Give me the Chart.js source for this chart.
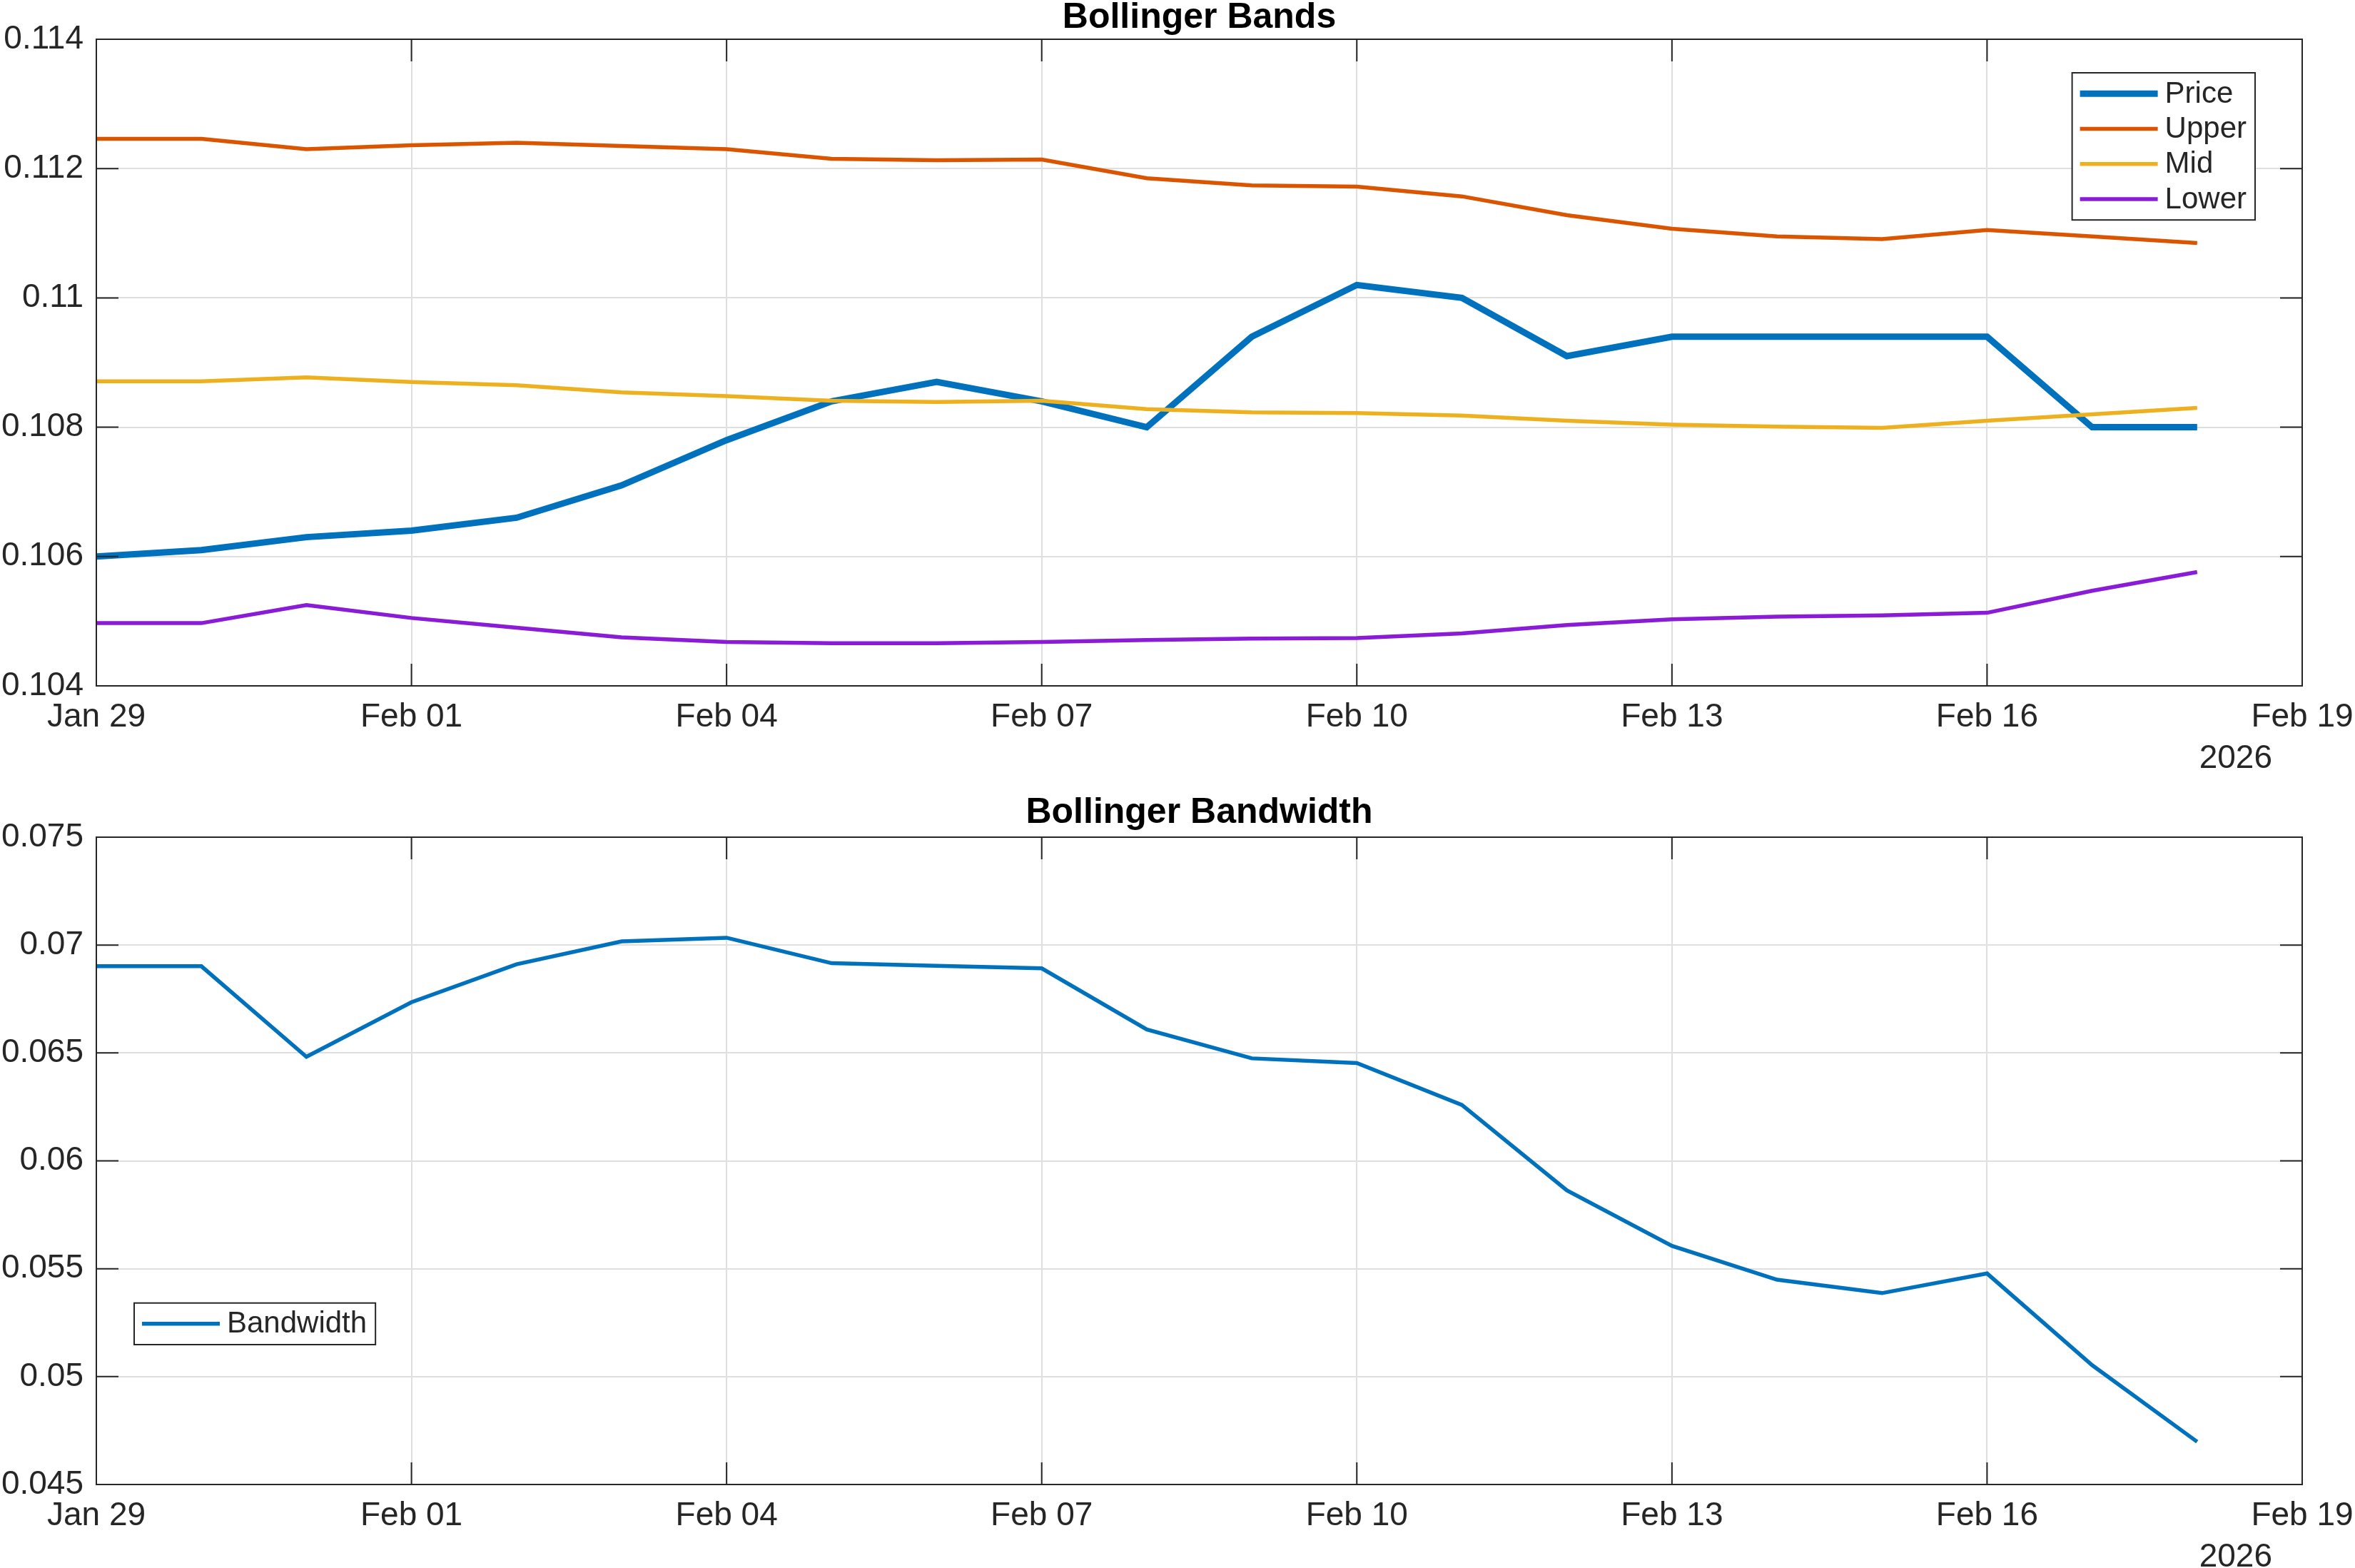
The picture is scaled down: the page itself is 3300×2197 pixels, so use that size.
<!DOCTYPE html>
<html lang="en">
<head>
<meta charset="UTF-8">
<title>Bollinger Bands</title>
<script src="https://cdn.jsdelivr.net/npm/chart.js"></script>
<style>
  body { margin: 0; background: #fff; }
  canvas { position: absolute; left: 0; }
</style>
</head>
<body>
<canvas id="bands" width="3300" height="1078" style="top:0"></canvas>
<canvas id="bw" width="3300" height="1119" style="top:1078px"></canvas>

<script>
// one entry per trading day, Jan 29 .. Feb 18 (2026)
const dates = ['Jan 29', 'Jan 30', 'Jan 31', 'Feb 01', 'Feb 02', 'Feb 03', 'Feb 04',
               'Feb 05', 'Feb 06', 'Feb 07', 'Feb 08', 'Feb 09', 'Feb 10', 'Feb 11',
               'Feb 12', 'Feb 13', 'Feb 14', 'Feb 15', 'Feb 16', 'Feb 17', 'Feb 18'];

const price = [0.1060, 0.1061, 0.1063, 0.1064, 0.1066, 0.1071, 0.1078, 0.1084, 0.1087, 0.1084, 0.1080,
               0.1094, 0.1102, 0.1100, 0.1091, 0.1094, 0.1094, 0.1094, 0.1094, 0.1080, 0.1080];
const upper = [0.11246, 0.11246, 0.11230, 0.11236, 0.11240, 0.11235, 0.11230, 0.11215, 0.11213, 0.11214, 0.11185,
               0.11174, 0.11172, 0.11157, 0.11128, 0.11107, 0.11095, 0.11091, 0.11105, 0.11095, 0.11085];
const mid   = [0.10871, 0.10871, 0.10877, 0.10870, 0.10865, 0.10854, 0.10848, 0.10841, 0.10839, 0.10841, 0.10828,
               0.10823, 0.10822, 0.10818, 0.10810, 0.10804, 0.10801, 0.10799, 0.10810, 0.10820, 0.10830];
const lower = [0.10497, 0.10497, 0.10525, 0.10505, 0.10490, 0.10475, 0.10468, 0.10466, 0.10466, 0.10468, 0.10471,
               0.10473, 0.10474, 0.10481, 0.10494, 0.10503, 0.10507, 0.10509, 0.10513, 0.10547, 0.10576];
const bandwidth = [0.06902, 0.06902, 0.06482, 0.06735, 0.06911, 0.07017, 0.07034, 0.06916, 0.06904, 0.06892, 0.06609,
                   0.06475, 0.06453, 0.06259, 0.05863, 0.05606, 0.05449, 0.05387, 0.05478, 0.05053, 0.04698];

// axis ticks (x ticks are day offsets from Jan 29)
const xTickPos = [0, 3, 6, 9, 12, 15, 18, 21];
const xTickLabels = ['Jan 29', 'Feb 01', 'Feb 04', 'Feb 07', 'Feb 10', 'Feb 13', 'Feb 16', 'Feb 19'];
const bandsTicks = [0.104, 0.106, 0.108, 0.110, 0.112, 0.114];
const bwTicks = [0.045, 0.050, 0.055, 0.060, 0.065, 0.070, 0.075];
const yearLabel = '2026';

const ink = '#262626';
const gridColor = '#dfdfdf';
const family = '"Liberation Sans", Arial, Helvetica, sans-serif';
Chart.defaults.font.family = family;

const pts = arr => arr.map((v, i) => ({ x: i, y: v }));

// matlab-ish frame: box, inward ticks on all sides, year label, boxed legend
const frame = {
  id: 'frame',
  afterDraw(chart, args, opts) {
    const { ctx, chartArea: a, scales: { x, y } } = chart;
    ctx.save();
    ctx.strokeStyle = ink;
    ctx.lineWidth = 2;
    ctx.strokeRect(a.left, a.top, a.right - a.left, a.bottom - a.top);
    ctx.beginPath();
    const tl = 31;
    x.ticks.forEach(t => {
      const px = x.getPixelForValue(t.value);
      ctx.moveTo(px, a.bottom); ctx.lineTo(px, a.bottom - tl);
      ctx.moveTo(px, a.top); ctx.lineTo(px, a.top + tl);
    });
    y.ticks.forEach(t => {
      const py = y.getPixelForValue(t.value);
      ctx.moveTo(a.left, py); ctx.lineTo(a.left + tl, py);
      ctx.moveTo(a.right, py); ctx.lineTo(a.right - tl, py);
    });
    ctx.stroke();

    ctx.fillStyle = ink;
    ctx.font = '46px ' + family;
    ctx.textAlign = 'right';
    ctx.textBaseline = 'middle';
    ctx.fillText(yearLabel, a.right - 42, a.bottom + 102);

    // legend
    const items = chart.data.datasets;
    ctx.font = '42px ' + family;
    const rowH = 49.3;
    const textW = Math.max(...items.map(d => ctx.measureText(d.label).width));
    const w = 130 + textW + 12, h = items.length * rowH + 9;
    const left = opts.right ? a.right - opts.dx - w : a.left + opts.dx;
    const top = opts.bottom ? a.bottom - opts.dy - h : a.top + opts.dy;
    ctx.fillStyle = '#fff';
    ctx.fillRect(left, top, w, h);
    ctx.strokeStyle = ink;
    ctx.lineWidth = 2;
    ctx.strokeRect(left, top, w, h);
    ctx.textAlign = 'left';
    items.forEach((d, i) => {
      const cy = top + 4.5 + rowH * (i + 0.5);
      ctx.strokeStyle = d.borderColor;
      ctx.lineWidth = d.borderWidth;
      ctx.beginPath();
      ctx.moveTo(left + 11, cy);
      ctx.lineTo(left + 120, cy);
      ctx.stroke();
      ctx.fillStyle = ink;
      ctx.fillText(d.label, left + 130, cy + 1);
    });
    ctx.restore();
  }
};

function makeOptions(title, titlePad, yMin, yMax, yTicks, legendPos) {
  return {
    responsive: false,
    animation: false,
    layout: { padding: { right: 74 } },
    elements: { point: { radius: 0 }, line: { tension: 0 } },
    plugins: {
      legend: { display: false },
      tooltip: { enabled: false },
      title: {
        display: true,
        text: title,
        fullSize: false,
        color: '#000',
        font: { size: 50, weight: 'bold', lineHeight: 1 },
        padding: titlePad
      },
      frame: legendPos
    },
    scales: {
      x: {
        type: 'linear',
        min: 0,
        max: 21,
        afterBuildTicks: s => { s.ticks = xTickPos.map(v => ({ value: v })); },
        afterFit: s => { s.height = 117; s.paddingLeft = 0; s.paddingRight = 0; },
        ticks: {
          callback: (v, i) => xTickLabels[i],
          color: ink,
          font: { size: 46 },
          padding: 17,
          maxRotation: 0,
          autoSkip: false
        },
        grid: { color: gridColor, lineWidth: 2, drawTicks: false },
        border: { display: false }
      },
      y: {
        min: yMin,
        max: yMax,
        afterBuildTicks: s => { s.ticks = yTicks.map(v => ({ value: v })); },
        afterFit: s => { s.width = 135; },
        ticks: {
          callback: v => String(+v.toFixed(4)),
          color: ink,
          font: { size: 46 },
          padding: 18
        },
        grid: { color: gridColor, lineWidth: 2, drawTicks: false },
        border: { display: false }
      }
    }
  };
}

new Chart(document.getElementById('bands'), {
  type: 'line',
  data: {
    datasets: [
      { label: 'Price', data: pts(price), borderColor: '#0072BD', borderWidth: 9, order: 1 },
      { label: 'Upper', data: pts(upper), borderColor: '#DB5500', borderWidth: 5.5, order: 0 },
      { label: 'Mid',   data: pts(mid),   borderColor: '#EDB120', borderWidth: 5.5, order: 0 },
      { label: 'Lower', data: pts(lower), borderColor: '#8A1BD6', borderWidth: 5.5, order: 0 }
    ]
  },
  options: makeOptions('Bollinger Bands', { top: 0, bottom: 5 }, 0.104, 0.114, bandsTicks,
                       { right: true, dx: 66, dy: 47 }),
  plugins: [frame]
});

new Chart(document.getElementById('bw'), {
  type: 'line',
  data: {
    datasets: [
      { label: 'Bandwidth', data: pts(bandwidth), borderColor: '#0072BD', borderWidth: 5.5 }
    ]
  },
  options: makeOptions('Bollinger Bandwidth', { top: 36, bottom: 9 }, 0.045, 0.075, bwTicks,
                       { right: false, dx: 53, bottom: true, dy: 196 }),
  plugins: [frame]
});
</script>
</body>
</html>
